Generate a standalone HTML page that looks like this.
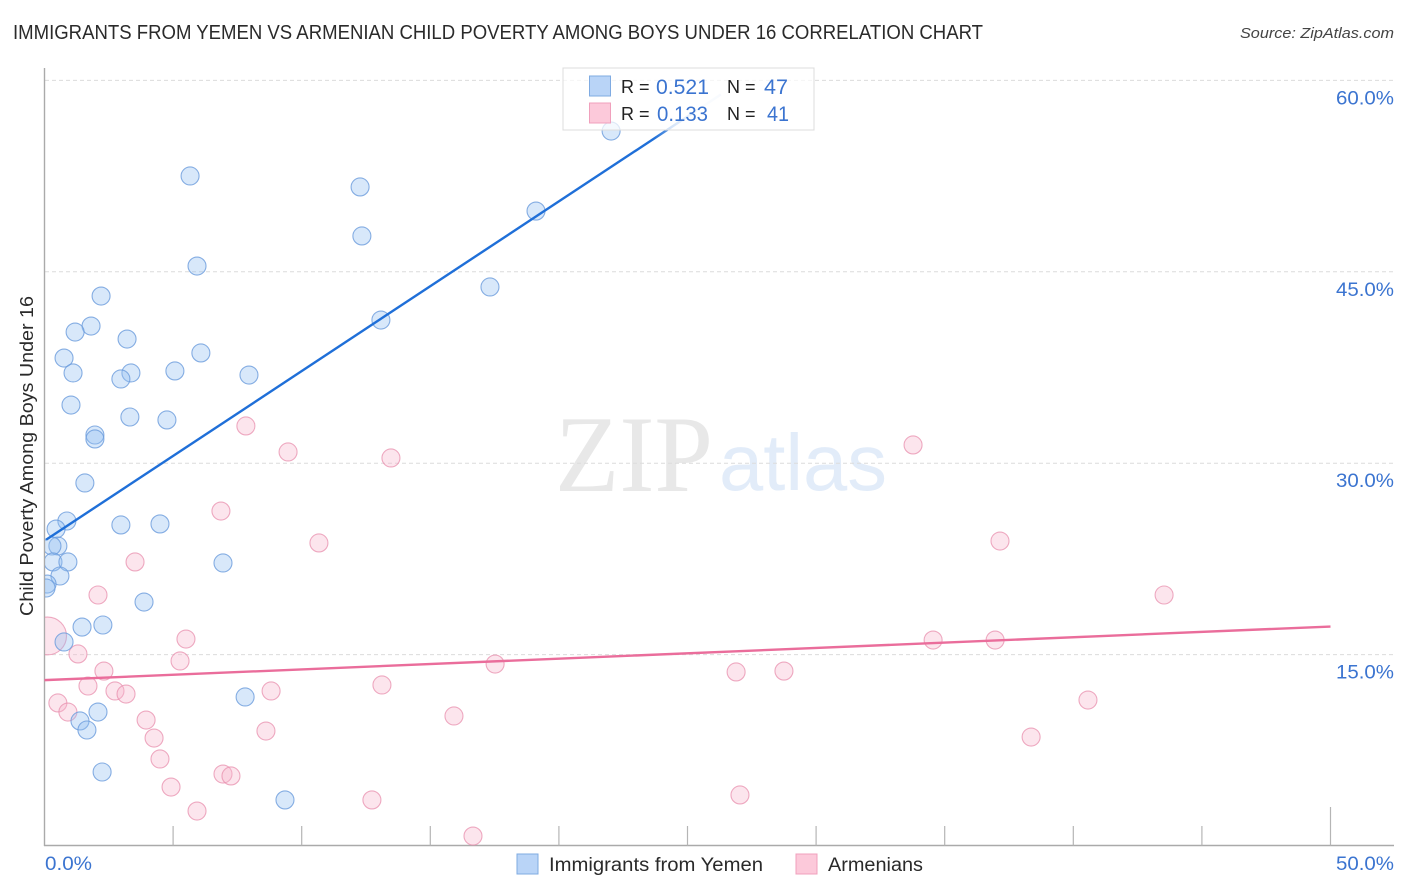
<!DOCTYPE html>
<html lang="en">
<head>
<meta charset="utf-8">
<title>Immigrants from Yemen vs Armenian Child Poverty Among Boys Under 16</title>
<style>
html,body{margin:0;padding:0;background:#fff;}
svg{display:block;font-family:"Liberation Sans",sans-serif;}
</style>
</head>
<body>
<svg id="chart" width="1406" height="892" viewBox="0 0 1406 892" xmlns="http://www.w3.org/2000/svg">
  <defs>
    <clipPath id="plot-clip"><rect x="45" y="60" width="1349" height="786"/></clipPath>
    <linearGradient id="blue-fade" x1="0" y1="0" x2="1" y2="0">
      <stop offset="0" stop-color="#1f6fd8"/>
      <stop offset="0.9" stop-color="#1f6fd8"/>
      <stop offset="0.95" stop-color="#1f6fd8" stop-opacity="0.4"/>
      <stop offset="0.97" stop-color="#1f6fd8" stop-opacity="0.08"/>
      <stop offset="1" stop-color="#1f6fd8" stop-opacity="0.12"/>
    </linearGradient>
  </defs>
  <text x="13" y="39" font-size="20" fill="#2a2a2a" textLength="970" lengthAdjust="spacingAndGlyphs">IMMIGRANTS FROM YEMEN VS ARMENIAN CHILD POVERTY AMONG BOYS UNDER 16 CORRELATION CHART</text>
  <text x="1394" y="38" font-size="15" font-style="italic" fill="#444" text-anchor="end" textLength="154" lengthAdjust="spacingAndGlyphs">Source: ZipAtlas.com</text>

  <g>
    <text x="555" y="491" font-family="'Liberation Serif',serif" font-size="109" fill="#e8e8e8" textLength="158" lengthAdjust="spacingAndGlyphs">ZIP</text>
    <text x="719" y="490" font-size="80" fill="#e2ecf9" textLength="168" lengthAdjust="spacingAndGlyphs">atlas</text>
  </g>

  <g id="grid"></g>
  <g id="axes"></g>
  <g id="points" clip-path="url(#plot-clip)"></g>
  <g id="trends"></g>

  <g font-size="20">
    <rect x="563" y="68" width="251" height="62" fill="#fff" fill-opacity="0.72" stroke="#dcdcdc" stroke-width="1"/>
    <rect x="589.5" y="76" width="21" height="20" fill="#b9d4f7" stroke="#7fabe2"/>
    <rect x="589.5" y="103" width="21" height="20" fill="#fcc9da" stroke="#f0a0bc"/>
    <text x="621" y="93" fill="#222" font-size="18">R =</text>
    <text x="656" y="94" fill="#3b74d0" font-size="21" textLength="53" lengthAdjust="spacingAndGlyphs">0.521</text>
    <text x="727" y="93" fill="#222" font-size="18">N =</text>
    <text x="764" y="94" fill="#3b74d0" font-size="21" textLength="24" lengthAdjust="spacingAndGlyphs">47</text>
    <text x="621" y="120" fill="#222" font-size="18">R =</text>
    <text x="657" y="121" fill="#3b74d0" font-size="21" textLength="51" lengthAdjust="spacingAndGlyphs">0.133</text>
    <text x="727" y="120" fill="#222" font-size="18">N =</text>
    <text x="767" y="121" fill="#3b74d0" font-size="21" textLength="22" lengthAdjust="spacingAndGlyphs">41</text>
  </g>

  <text transform="translate(33,616) rotate(-90)" font-size="18" fill="#2a2a2a" textLength="320" lengthAdjust="spacingAndGlyphs">Child Poverty Among Boys Under 16</text>

  <g font-size="19">
    <g>
      <rect x="517" y="854" width="21" height="20" fill="#b9d4f7" stroke="#7fabe2"/>
      <text x="549" y="871" fill="#2a2a2a" textLength="214" lengthAdjust="spacingAndGlyphs">Immigrants from Yemen</text>
    </g>
    <g>
      <rect x="796" y="854" width="21" height="20" fill="#fcc9da" stroke="#f0a0bc"/>
      <text x="828" y="871" fill="#2a2a2a" textLength="95" lengthAdjust="spacingAndGlyphs">Armenians</text>
    </g>
  </g>
</svg>
<script>
// Chart data
const yTickValues = [15, 30, 45, 60];
const xTickValues = [0, 5, 10, 15, 20, 25, 30, 35, 40, 45, 50];
const xLabelValues = [0, 50];

const yemenX = [22.03,5.66,12.27,19.11,12.34,5.93,17.32,2.20,13.08,1.81,1.19,3.21,6.08,0.76,1.11,5.07,7.95,3.36,2.97,1.03,3.32,4.76,1.96,1.96,1.57,0.87,0.45,2.97,4.49,0.52,0.29,0.33,0.91,6.94,0.60,0.10,0.06,3.87,1.46,2.27,0.76,7.80,2.08,1.38,1.65,2.24,9.35];
const yemenY = [56.03,52.51,51.65,49.76,47.81,45.45,43.81,43.10,41.22,40.75,40.28,39.73,38.64,38.24,37.07,37.23,36.91,37.07,36.60,34.56,33.62,33.39,32.21,31.90,28.45,25.47,24.84,25.16,25.24,23.51,23.51,22.26,22.26,22.18,21.16,20.53,20.22,19.12,17.16,17.32,15.99,11.68,10.50,9.80,9.09,5.80,3.61];

const armenianX = [0.12,33.77,7.83,9.47,13.47,6.86,10.67,37.15,3.52,2.08,43.53,5.50,34.55,36.96,1.30,5.27,17.52,2.31,26.89,28.75,13.12,1.69,8.81,2.74,3.17,40.57,0.52,0.91,15.92,3.95,8.61,4.26,38.36,4.49,6.94,7.25,4.92,27.04,12.73,5.93,16.66];
const armenianY = [16.46,31.43,32.92,30.88,30.41,26.25,23.75,23.90,22.26,19.67,19.67,16.22,16.14,16.14,15.05,14.50,14.26,13.71,13.64,13.71,12.62,12.54,12.15,12.15,11.91,11.44,11.21,10.50,10.19,9.87,9.01,8.46,8.54,6.82,5.64,5.49,4.62,4.00,3.61,2.74,0.78];
const armenianWeight = [2.1,1,1,1,1,1,1,1,1,1,1,1,1,1,1,1,1,1,1,1,1,1,1,1,1,1,1,1,1,1,1,1,1,1,1,1,1,1,1,1,1];

const yemenTrendX = [0.06, 26.3];
const yemenTrendY = [24.0, 58.9];
const armenianTrendX = [0, 50];
const armenianTrendY = [13.0, 17.2];

// Axis functions
const xScale = v => 44.5 + v * 25.72;
const yScale = v => 846 - v * 12.76;

const NS = 'http://www.w3.org/2000/svg';
function make(tag, attrs, parent) {
  const el = document.createElementNS(NS, tag);
  for (const k in attrs) el.setAttribute(k, attrs[k]);
  parent.appendChild(el);
  return el;
}

const grid = document.getElementById('grid');
const axes = document.getElementById('axes');
const points = document.getElementById('points');
const trends = document.getElementById('trends');

yTickValues.forEach(v => {
  const line = make('line', {x1: 45, x2: 1394, y1: yScale(v), y2: yScale(v), stroke: '#dcdcdc', 'stroke-width': 1, 'stroke-dasharray': '4 3'}, grid);
  
  
  const label = make('text', {x: 1394, y: yScale(v) + 24, 'text-anchor': 'end', 'font-size': 19, fill: '#3b74d0', textLength: 58, lengthAdjust: 'spacingAndGlyphs'}, axes);
  
  
  label.textContent = v.toFixed(1) + '%';
});

const yAxis = make('line', {x1: 44.5, x2: 44.5, y1: 68, y2: 846, stroke: '#aaa', 'stroke-width': 1.4}, axes);


const xAxis = make('line', {x1: 44, x2: 1394, y1: 845.5, y2: 845.5, stroke: '#aaa', 'stroke-width': 1.4}, axes);



xTickValues.forEach((v, i) => {
  if (i === 0) return;
  const top = i === xTickValues.length - 1 ? 807 : 826;
  const tick = make('line', {x1: xScale(v), x2: xScale(v), y1: top, y2: 845.5, stroke: '#b5b5b5', 'stroke-width': 1.2}, axes);
  
  
});

xLabelValues.forEach((v, i) => {
  const first = i === 0;
  const label = make('text', {x: first ? 45 : 1394, y: 870, 'text-anchor': first ? 'start' : 'end', 'font-size': 19, fill: '#3b74d0', textLength: first ? 47 : 58, lengthAdjust: 'spacingAndGlyphs'}, axes);
  
  
  label.textContent = v.toFixed(1) + '%';
});

armenianX.forEach((v, i) => {
  const c = make('circle', {cx: xScale(v), cy: yScale(armenianY[i]), r: 9 * armenianWeight[i], fill: '#f8b6cd', 'fill-opacity': 0.36, stroke: '#e88fae', 'stroke-opacity': 0.75, 'stroke-width': 1.1}, points);
  
  
});

yemenX.forEach((v, i) => {
  const c = make('circle', {cx: xScale(v), cy: yScale(yemenY[i]), r: 9, fill: '#93bef0', 'fill-opacity': 0.36, stroke: '#6a9bdc', 'stroke-opacity': 0.8, 'stroke-width': 1.1}, points);
  
  
});

const armenianTrend = make('line', {x1: xScale(armenianTrendX[0]), y1: yScale(armenianTrendY[0]), x2: xScale(armenianTrendX[1]), y2: yScale(armenianTrendY[1]), stroke: '#ea6d9b', 'stroke-width': 2.4}, trends);



const yemenTrend = make('line', {x1: xScale(yemenTrendX[0]), y1: yScale(yemenTrendY[0]), x2: xScale(yemenTrendX[1]), y2: yScale(yemenTrendY[1]), stroke: 'url(#blue-fade)', 'stroke-width': 2.4}, trends);


</script>
</body>
</html>
